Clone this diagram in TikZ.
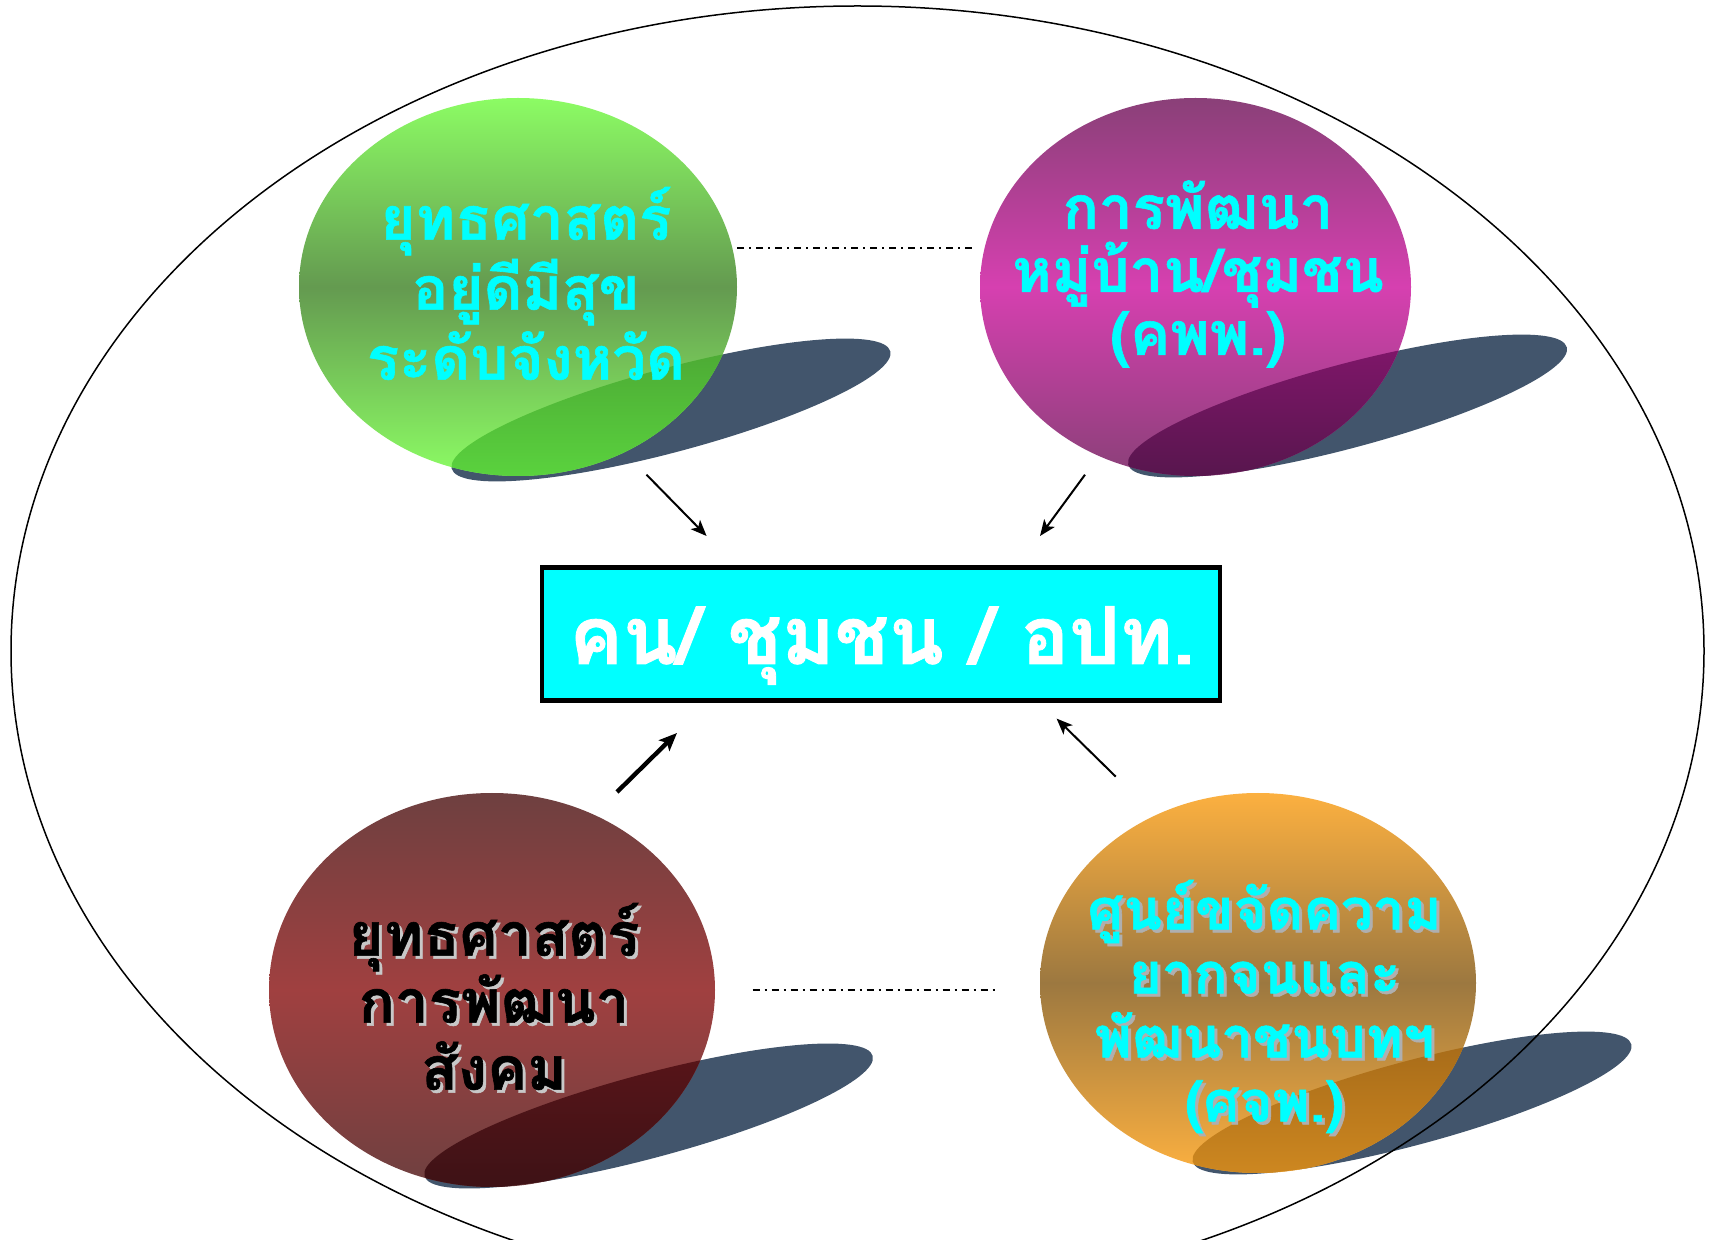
\documentclass[tikz,border=0pt]{standalone}
\usepackage{fontspec}
\newfontfamily\thaifont[Script=Thai, BoldFeatures={FakeBold=1}]{Loma}
\usetikzlibrary{shapes.geometric,arrows.meta}
\definecolor{tcyan}{RGB}{0,255,255}
\definecolor{shadowc}{RGB}{66,85,108}
\definecolor{gTop}{RGB}{140,252,100}
\definecolor{gMid}{RGB}{100,154,80}
\definecolor{gDTop}{RGB}{90,210,62}
\definecolor{gDMid}{RGB}{70,150,48}
\definecolor{pTop}{RGB}{138,64,120}
\definecolor{pMid}{RGB}{214,64,176}
\definecolor{pDTop}{RGB}{88,22,78}
\definecolor{pDMid}{RGB}{145,22,118}
\definecolor{bTop}{RGB}{110,64,64}
\definecolor{bMid}{RGB}{160,64,64}
\definecolor{bDTop}{RGB}{62,18,22}
\definecolor{bDMid}{RGB}{100,22,26}
\definecolor{oTop}{RGB}{252,176,64}
\definecolor{oMid}{RGB}{156,120,64}
\definecolor{oDTop}{RGB}{205,135,32}
\definecolor{oDMid}{RGB}{150,95,22}
\definecolor{tshadow}{RGB}{175,175,175}
\definecolor{bshadow}{RGB}{200,200,200}
\begin{document}
\begin{tikzpicture}[x=0.5pt,y=-0.5pt,
  bubble/.style={ellipse, inner sep=0pt, outer sep=0pt},
  bubtext/.style={font=\thaifont\bfseries\fontsize{30}{#1}\selectfont, align=center, inner sep=0pt},
  otxt/.style={font=\thaifont\bfseries\fontsize{28.2}{32}\selectfont, align=center, inner sep=0pt},
  thinarrow/.style={line width=1pt, -{Stealth[length=8pt,width=6.5pt,inset=2pt]}},
  thickarrow/.style={line width=2.2pt, -{Stealth[length=9pt,width=7.5pt,inset=2pt]}},
  dashdotline/.style={line width=0.75pt, dash pattern=on 3.5pt off 2.5pt on 1pt off 2.5pt},
  centerbox/.style={draw=black, line width=2.3pt, fill=tcyan, minimum width=339pt, minimum height=66.5pt, inner sep=0pt}
]
\useasboundingbox (0,0) rectangle (1715,1240);
\fill[white] (0,0) rectangle (1715,1240);

% shadows
\fill[shadowc, rotate around={15:(671,410)}] (671,410) ellipse [x radius=227, y radius=42];
\fill[shadowc, rotate around={15:(1347.5,406)}] (1347.5,406) ellipse [x radius=227, y radius=42];
\fill[shadowc, rotate around={15:(648.6,1116)}] (648.6,1116) ellipse [x radius=232, y radius=42];
\fill[shadowc, rotate around={15:(1412,1103)}] (1412,1103) ellipse [x radius=227, y radius=42];

% bubbles
\node[bubble, minimum width=219pt, minimum height=189pt, top color=gTop, bottom color=gTop, middle color=gMid] (green) at (518,287) {};
\node[bubble, minimum width=215.5pt, minimum height=189pt, top color=pTop, bottom color=pTop, middle color=pMid] (purple) at (1195.5,287) {};
\node[bubble, minimum width=223pt, minimum height=197pt, top color=bTop, bottom color=bTop, middle color=bMid] (brown) at (492,990) {};
\node[bubble, minimum width=218pt, minimum height=190pt, top color=oTop, bottom color=oTop, middle color=oMid] (orange) at (1258,983) {};

% overlaps
\begin{scope}
\clip[rotate around={15:(671,410)}] (671,410) ellipse [x radius=227, y radius=42];
\shade[top color=gDTop, bottom color=gDTop, middle color=gDMid] (518,287) ellipse [x radius=219, y radius=189];
\end{scope}
\begin{scope}
\clip[rotate around={15:(1347.5,406)}] (1347.5,406) ellipse [x radius=227, y radius=42];
\shade[top color=pDTop, bottom color=pDTop, middle color=pDMid] (1195.5,287) ellipse [x radius=215.5, y radius=189];
\end{scope}
\begin{scope}
\clip[rotate around={15:(648.6,1116)}] (648.6,1116) ellipse [x radius=232, y radius=42];
\shade[top color=bDTop, bottom color=bDTop, middle color=bDMid] (492,990) ellipse [x radius=223, y radius=197];
\end{scope}
\begin{scope}
\clip[rotate around={15:(1412,1103)}] (1412,1103) ellipse [x radius=227, y radius=42];
\shade[top color=oDTop, bottom color=oDTop, middle color=oDMid] (1258,983) ellipse [x radius=218, y radius=190];
\end{scope}

% texts
\node[bubtext=35, text=tcyan] (gtext) at (526,283.5) {ยุทธศาสตร์\\อยู่ดีมีสุข\\ระดับจังหวัด};
\node[bubtext=31.5, text=tcyan] (ptext) at (1198,274) {การพัฒนา\\หมู่บ้าน/ชุมชน\\(คพพ.)};
\node[bubtext=33.5, text=bshadow] (btextsh) at (497,999.5) {ยุทธศาสตร์\\การพัฒนา\\สังคม};
\node[bubtext=33.5, text=black] (btext) at (494,996.5) {ยุทธศาสตร์\\การพัฒนา\\สังคม};
\node[otxt, text=tshadow] (otextsh) at (1267.5,1009.5) {ศูนย์ขจัดความ\\ยากจนและ\\พัฒนาชนบทฯ\\(ศจพ.)};
\node[otxt, text=tcyan] (otext) at (1264.5,1006.5) {ศูนย์ขจัดความ\\ยากจนและ\\พัฒนาชนบทฯ\\(ศจพ.)};

% center box
\node[centerbox] (box) at (881,634) {};
\node[font=\thaifont\bfseries\fontsize{40}{46}\selectfont, text=white, inner sep=0pt] (boxtext) at (882,645.5) {คน/ ชุมชน / อปท.};

% arrows
\coordinate (a1s) at (646.5,474.7); \coordinate (a1e) at (706.6,536);
\coordinate (a2s) at (1085,474.7); \coordinate (a2e) at (1040,536);
\coordinate (a3s) at (617,792); \coordinate (a3e) at (677,733);
\coordinate (a4s) at (1115.7,776.6); \coordinate (a4e) at (1056.6,718.6);
\draw[thinarrow] (a1s) -- (a1e);
\draw[thinarrow] (a2s) -- (a2e);
\draw[thickarrow] (a3s) -- (a3e);
\draw[thinarrow] (a4s) -- (a4e);

% dash-dot links
\coordinate (d1s) at (737,248); \coordinate (d1e) at (973.5,248);
\coordinate (d2s) at (752.5,990); \coordinate (d2e) at (995,990);
\draw[dashdotline] (d1s) -- (d1e);
\draw[dashdotline] (d2s) -- (d2e);

% outer ellipse
\node[ellipse, draw=black, line width=0.75pt, minimum width=846.5pt, minimum height=645pt, inner sep=0pt] (outer) at (857.5,651) {};
\end{tikzpicture}
\end{document}
